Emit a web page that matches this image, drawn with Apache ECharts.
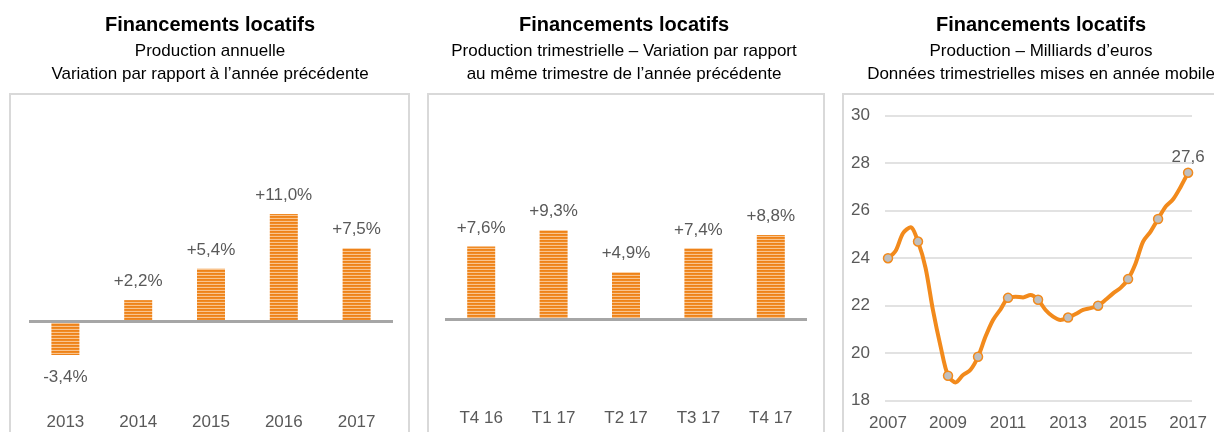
<!DOCTYPE html>
<html>
<head>
<meta charset="utf-8">
<script src="https://cdn.jsdelivr.net/npm/echarts@6/dist/echarts.min.js"></script>
<style>
    html, body { margin: 0; padding: 0; background: #fff; }
    #chart { width: 1214px; height: 432px; }
</style>
</head>
<body>
<div id="chart"></div>
<script>
// production annuelle, variation en %
const anneesCat = ["2013", "2014", "2015", "2016", "2017"];
const varAnnuelle = [-3.4, 2.2, 5.4, 11.0, 7.5];

// production trimestrielle, variation en %
const trimCat = ["T4 16", "T1 17", "T2 17", "T3 17", "T4 17"];
const varTrim = [7.6, 9.3, 4.9, 7.4, 8.8];

// production en année mobile (Md€), un point par trimestre, de 2007 à 2017
const debutSerie = 2007;
const prodMobile = [
    24.0, 24.3, 25.05, 25.3,
    24.7, 23.6, 21.8, 20.3,
    19.05, 18.77, 19.08, 19.3,
    19.85, 20.7, 21.4, 21.85,
    22.33, 22.38, 22.35, 22.45,
    22.25, 21.82, 21.54, 21.4,
    21.5, 21.65, 21.82, 21.9,
    22.0, 22.25, 22.52, 22.75,
    23.12, 23.78, 24.7, 25.12,
    25.65, 26.17, 26.48, 27.0,
    27.6
];
const anneesLigne = [2007, 2009, 2011, 2013, 2015, 2017];

const orange = "#F28A1C";
const gris = "#595959";
const police = "Liberation Sans";

// motif à rayures horizontales des barres
function rayures() {
    let c = document.createElement("canvas");
    c.width = 4;
    c.height = 3;
    let ctx = c.getContext("2d");
    ctx.fillStyle = "#EE8219";
    ctx.fillRect(0, 0, 4, 1);
    ctx.fillStyle = "#F08B25";
    ctx.fillRect(0, 1, 4, 1);
    ctx.fillStyle = "#F9C48E";
    ctx.fillRect(0, 2, 4, 1);
    return { image: c, repeat: "repeat" };
}
const motif = rayures();

function pct(v) {
    return (v > 0 ? "+" : "") + v.toFixed(1).replace(".", ",") + "%";
}

function barres(valeurs, idx) {
    return {
        type: "bar",
        xAxisIndex: idx,
        yAxisIndex: idx,
        barWidth: 28,
        data: valeurs.map(v => ({
            value: v,
            label: {
                position: v < 0 ? "bottom" : "top",
                distance: v < 0 ? 14 : 10
            }
        })),
        itemStyle: { color: motif },
        label: {
            show: true,
            formatter: p => pct(p.value),
            color: gris,
            fontSize: 17,
            fontFamily: police
        },
        markLine: {
            silent: true,
            symbol: "none",
            label: { show: false },
            lineStyle: { color: "#A6A6A6", width: 3, type: "solid" },
            data: [{ yAxis: 0 }]
        },
        animation: false
    };
}

function titre(x, sous) {
    return {
        text: "Financements locatifs",
        subtext: sous,
        left: x,
        textAlign: "center",
        top: 9,
        itemGap: 4,
        textStyle: { fontFamily: police, fontSize: 20, fontWeight: "bold", color: "#000", lineHeight: 22 },
        subtextStyle: { fontFamily: police, fontSize: 17, color: "#000", lineHeight: 23 }
    };
}

let chart = echarts.init(document.getElementById("chart"));

let axeCat = (data, idx) => ({
    type: "category",
    gridIndex: idx,
    data: data,
    axisLine: { show: false },
    axisTick: { show: false },
    axisLabel: { color: gris, fontSize: 17, fontFamily: police, margin: 14 }
});

let axeVar = (idx) => ({
    type: "value",
    gridIndex: idx,
    min: -8,
    max: 14,
    show: false
});

let option = {
    animation: false,
    title: [
        titre(205, "Production annuelle\nVariation par rapport à l’année précédente"),
        titre(619, "Production trimestrielle – Variation par rapport\nau même trimestre de l’année précédente"),
        titre(1036, "Production – Milliards d’euros\nDonnées trimestrielles mises en année mobile")
    ],
    graphic: [
        { type: "rect", shape: { x: 10, y: 94, width: 399, height: 360 }, style: { fill: "none", stroke: "#D9D9D9", lineWidth: 2 } },
        { type: "rect", shape: { x: 428, y: 94, width: 396, height: 360 }, style: { fill: "none", stroke: "#D9D9D9", lineWidth: 2 } },
        { type: "rect", shape: { x: 843, y: 94, width: 380, height: 360 }, style: { fill: "none", stroke: "#D9D9D9", lineWidth: 2 } }
    ],
    grid: [
        { left: 29, right: 821, top: 184.5, bottom: 31.9 },
        { left: 445, right: 407, top: 185.3, bottom: 36.6 },
        { left: 885, right: 22, top: 115.7, bottom: 31.3 }
    ],
    xAxis: [
        axeCat(anneesCat, 0),
        axeCat(trimCat, 1),
        {
            type: "value",
            gridIndex: 2,
            min: 2006.9,
            max: 2017.13,
            axisLine: { show: false },
            axisTick: { show: false },
            splitLine: { show: false },
            axisLabel: {
                customValues: anneesLigne,
                color: gris,
                fontSize: 17,
                fontFamily: police,
                margin: 14,
                formatter: v => String(v)
            }
        }
    ],
    yAxis: [
        axeVar(0),
        axeVar(1),
        {
            type: "value",
            gridIndex: 2,
            min: 18,
            max: 30,
            interval: 2,
            axisLine: { show: false },
            axisTick: { show: false },
            axisLabel: { color: gris, fontSize: 17, fontFamily: police, margin: 15 },
            splitLine: { lineStyle: { color: "#D9D9D9", width: 1.5 } }
        }
    ],
    series: [
        barres(varAnnuelle, 0),
        barres(varTrim, 1),
        {
            type: "line",
            xAxisIndex: 2,
            yAxisIndex: 2,
            data: prodMobile.map((v, i) => [debutSerie + i / 4, v]),
            smooth: 0.3,
            symbol: "circle",
            symbolSize: (v, p) => (p.dataIndex % 4 === 0 ? 9 : 0),
            showAllSymbol: true,
            lineStyle: { color: orange, width: 4 },
            itemStyle: { color: "#BFBFBF", borderColor: orange, borderWidth: 1.5 },
            label: {
                show: true,
                position: "top",
                distance: 2,
                color: gris,
                fontSize: 17,
                fontFamily: police,
                formatter: p => (p.dataIndex === prodMobile.length - 1 ? p.value[1].toFixed(1).replace(".", ",") : "")
            },
            z: 3
        }
    ]
};

chart.setOption(option);
</script>
</body>
</html>
